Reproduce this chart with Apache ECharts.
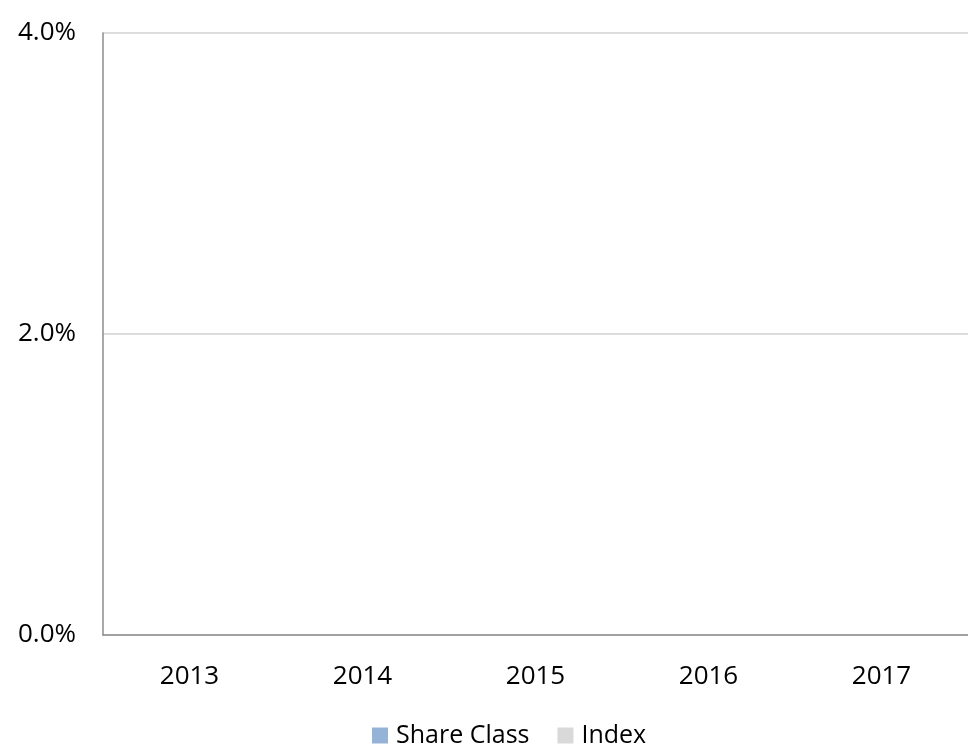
<!DOCTYPE html>
<html>
<head>
<meta charset="utf-8">
<script src="https://cdn.jsdelivr.net/npm/echarts@6/dist/echarts.min.js"></script>
<style>
  html, body { margin: 0; padding: 0; background: #fff; }
  #chart { width: 968px; height: 746px; }
</style>
</head>
<body>
<div id="chart"></div>
<script>
// 数据
const years = ['2013', '2014', '2015', '2016', '2017']
const shareClass = [0, 0, 0, 0, 0]
const indexValues = [0, 0, 0, 0, 0]
const yTicks = [0, 2, 4]

const chart = echarts.init(document.getElementById('chart'))

const font = '"Open Sans", "Liberation Sans", sans-serif'

chart.setOption({
  animation: false,
  textStyle: {fontFamily: font},
  grid: {left: 103, top: 33, width: 870, height: 602},
  legend: {
    top: 718,
    left: 367,
    itemWidth: 16,
    itemHeight: 16,
    itemGap: 28,
    icon: 'rect',
    textStyle: {fontSize: 25, color: '#000', fontFamily: font, padding: [0, 0, 0, 3]},
    data: ['Share Class', 'Index']
  },
  xAxis: {
    type: 'category',
    data: years,
    axisLine: {lineStyle: {color: '#8c8c8c', width: 1.5}},
    axisTick: {show: false},
    axisLabel: {fontSize: 26, color: '#000', margin: 29}
  },
  yAxis: {
    type: 'value',
    min: yTicks[0],
    max: yTicks[yTicks.length - 1],
    interval: 2,
    axisLine: {show: true, lineStyle: {color: '#8c8c8c', width: 1.5}},
    axisTick: {show: false},
    splitLine: {lineStyle: {color: '#d0d0d0', width: 1.5}},
    axisLabel: {
      fontSize: 26,
      color: '#000',
      margin: 27,
      formatter: v => v.toFixed(1) + '%'
    }
  },
  series: [
    {name: 'Share Class', type: 'bar', data: shareClass, itemStyle: {color: '#95b3d7'}},
    {name: 'Index', type: 'bar', data: indexValues, itemStyle: {color: '#d9d9d9'}}
  ]
})
</script>
</body>
</html>
